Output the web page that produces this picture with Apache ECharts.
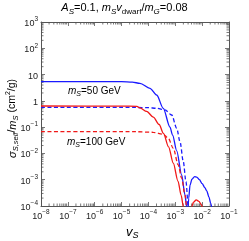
<!DOCTYPE html>
<html><head><meta charset="utf-8">
<script src="https://cdn.jsdelivr.net/npm/echarts@6/dist/echarts.min.js"></script>
<style>html,body{margin:0;padding:0;background:#fff}#c{width:249px;height:241px}</style>
</head><body><div id="c"></div>
<script>
// x: v_S, y: sigma/m (cm^2/g)
const blueSolid = [[1e-8,5.37],[1e-5,5.35],[2.51e-5,5.13],[4.85e-5,4.66],[1.14e-4,3.01],[2.03e-4,1.67],[3.57e-4,0.521],[6.34e-4,0.1],[7.94e-4,0.05],[1.13e-3,0.0126],[1.73e-3,1.51e-3],[2.30e-3,2.63e-4],[2.65e-3,9.3e-5],[2.75e-3,2.5e-5]];
const blueBump = [[2.95e-3,5e-5],[3.16e-3,2.0e-4],[3.55e-3,6.3e-4],[4.17e-3,1.05e-3],[5.25e-3,1.32e-3],[6.31e-3,1.26e-3],[7.94e-3,1.0e-3],[1e-2,7.1e-4],[1.26e-2,5.0e-4],[1.48e-2,3.8e-4],[1.78e-2,2.24e-4],[2.09e-2,1.26e-4],[2.40e-2,6.3e-5]];
const blueDashed = [[1e-8,0.562],[3.16e-5,0.562],[1e-4,0.55],[2.03e-4,0.521],[4.13e-4,0.450],[7.35e-4,0.290],[1.13e-3,0.0906],[1.50e-3,0.028],[1.99e-3,4.85e-3],[2.50e-3,8.4e-4],[3.05e-3,9.3e-5],[3.16e-3,3.2e-5]];
const redSolid = [[1e-8,0.638],[1e-5,0.634],[3.72e-5,0.617],[4.85e-5,0.537],[8.61e-5,0.398],[1.52e-4,0.24],[2.51e-4,0.126],[3.63e-4,0.0575],[5.62e-4,0.0178],[8.41e-4,4.27e-3],[1.26e-3,8.9e-4],[1.66e-3,2.51e-4],[1.99e-3,9.3e-5],[2.04e-3,3.2e-5]];
const redBump = [[3.8e-3,3.2e-5],[4.17e-3,1.0e-4],[4.79e-3,1.41e-4],[6.03e-3,1.70e-4],[7.59e-3,1.51e-4],[9.33e-3,1.12e-4],[1.07e-2,7.9e-5],[1.17e-2,3.2e-5]];
const redDashed = [[1e-8,0.0671],[3.16e-5,0.0671],[1.52e-4,0.0637],[3.57e-4,0.0535],[5.48e-4,0.0377],[8.41e-4,0.0157],[1.29e-3,3.64e-3],[1.73e-3,1.14e-3],[2.30e-3,2.63e-4],[2.65e-3,9.3e-5],[2.75e-3,3.2e-5]];
const xRange = [1e-8, 1e-1];
const yRange = [1e-4, 1e3];
const xMinorExps = [-8,-7,-6,-5,-4,-3,-2];
const yMinorExps = [-4,-3,-2,-1,0,1,2];
const minorMult = [2,3,4,5,6,7,8,9];

const BLUE = '#1a1aff', RED = '#f01818', AX = '#555', FONT = 'Liberation Sans';
const supRich = {
  b: {fontSize: 9, fontFamily: FONT, color: '#222', verticalAlign: 'bottom', lineHeight: 12},
  s: {fontSize: 6.5, fontFamily: FONT, color: '#222', verticalAlign: 'top', lineHeight: 12}
};
function fmtX(v){ const e = Math.round(Math.log10(v)); return '{b|10}{s|' + (e<0?'\u2212'+(-e):e) + '}'; }
function fmtY(v){ const e = Math.round(Math.log10(v));
  if (e === 0) return '{b|1}'; if (e === 1) return '{b|10}';
  return '{b|10}{s|' + (e<0?'\u2212'+(-e):e) + '}'; }

const xMinor = [], yMinor = [];
xMinorExps.forEach(e => minorMult.forEach(k => xMinor.push([k*Math.pow(10,e), 1])));
yMinorExps.forEach(e => minorMult.forEach(k => yMinor.push([1e-6, k*Math.pow(10,e)])));

function minorRender(axis){
  return function(params, api){
    const cs = params.coordSys;
    const p = api.coord([api.value(0), api.value(1)]);
    const st = {stroke: AX, lineWidth: 0.8};
    const L = 2.5;
    if (axis === 'x') {
      return {type:'group', children:[
        {type:'line', shape:{x1:p[0],y1:cs.y+cs.height,x2:p[0],y2:cs.y+cs.height-L}, style:st},
        {type:'line', shape:{x1:p[0],y1:cs.y,x2:p[0],y2:cs.y+L}, style:st}]};
    }
    return {type:'group', children:[
      {type:'line', shape:{x1:cs.x,y1:p[1],x2:cs.x+L,y2:p[1]}, style:st},
      {type:'line', shape:{x1:cs.x+cs.width,y1:p[1],x2:cs.x+cs.width-L,y2:p[1]}, style:st}]};
  };
}

const chart = echarts.init(document.getElementById('c'), null, {renderer:'canvas'});
function axisCommon(){ return {type:'log', logBase:10, splitNumber:7,
  axisLine:{show:true, lineStyle:{color:AX, width:1}}, axisTick:{show:true, inside:true, length:4, lineStyle:{color:AX, width:0.8}},
  splitLine:{show:false}, minorTick:{show:false}}; }
const line = (data, color, dashed) => ({type:'line', data, showSymbol:false, symbol:'none', smooth:0.3, smoothMonotone:'x', clip:true,
  lineStyle:{color, width:1.3, type: dashed ? [4,2.5] : 'solid'}, animation:false, z:3});

chart.setOption({
  animation:false,
  grid:{left:41, right:20, top:22, bottom:35},
  xAxis:[
    Object.assign(axisCommon(), {min:xRange[0], max:xRange[1], position:'bottom',
      axisLabel:{formatter:fmtX, rich:supRich, margin:3, showMinLabel:true, showMaxLabel:true}}),
    Object.assign(axisCommon(), {min:xRange[0], max:xRange[1], position:'top', axisLabel:{show:false}})
  ],
  yAxis:[
    Object.assign(axisCommon(), {min:yRange[0], max:yRange[1], position:'left',
      axisLabel:{formatter:fmtY, rich:supRich, margin:3, showMinLabel:true, showMaxLabel:true}}),
    Object.assign(axisCommon(), {min:yRange[0], max:yRange[1], position:'right', axisLabel:{show:false}})
  ],
  series:[
    line(blueSolid, BLUE, false), line(blueBump, BLUE, false), line(blueDashed, BLUE, true),
    line(redSolid, RED, false), line(redBump, RED, false), line(redDashed, RED, true),
    {type:'custom', data:xMinor, renderItem:minorRender('x'), clip:false, silent:true, z:2},
    {type:'custom', data:yMinor, renderItem:minorRender('y'), clip:false, silent:true, z:2}
  ],
  graphic:[
    {type:'text', left:'center', top:2, style:{x:0, text:'{i|A}{si|S}{r|=0.1, }{i|m}{si|S}{i|v}{sr|dwarf}{r|/}{i|m}{si|G}{r|=0.08}',
      rich:{i:{fontSize:11, fontStyle:'italic', fontFamily:FONT, color:'#222', verticalAlign:'top', lineHeight:14},
            r:{fontSize:11, fontFamily:FONT, color:'#222', verticalAlign:'top', lineHeight:14},
            si:{fontSize:8, fontStyle:'italic', fontFamily:FONT, color:'#222', verticalAlign:'bottom', lineHeight:14},
            sr:{fontSize:8, fontFamily:FONT, color:'#222', verticalAlign:'bottom', lineHeight:14}}}},
    {type:'text', x:5, y:158, rotation:Math.PI/2, style:{text:'{g|\u03c3}{si|S,self}{r|/}{i|m}{si|S}{r| (cm}{sup|2}{r|/g)}',
      rich:{g:{fontSize:11, fontStyle:'italic', fontFamily:FONT, color:'#222', verticalAlign:'middle', lineHeight:15},
            i:{fontSize:11, fontStyle:'italic', fontFamily:FONT, color:'#222', verticalAlign:'middle', lineHeight:15},
            r:{fontSize:10.5, fontFamily:FONT, color:'#222', verticalAlign:'middle', lineHeight:15},
            si:{fontSize:7.5, fontStyle:'italic', fontFamily:FONT, color:'#222', verticalAlign:'bottom', lineHeight:15},
            sup:{fontSize:7, fontFamily:FONT, color:'#222', verticalAlign:'top', lineHeight:15}}}},
    {type:'text', x:126, y:224, style:{text:'{i|v}{si|S}',
      rich:{i:{fontSize:13, fontStyle:'italic', fontFamily:FONT, color:'#222', verticalAlign:'middle', lineHeight:16},
            si:{fontSize:9, fontStyle:'italic', fontFamily:FONT, color:'#222', verticalAlign:'bottom', lineHeight:16}}}},
    {type:'text', x:68, y:85, style:{text:'{i|m}{si|S}{r|=50 GeV}',
      rich:{i:{fontSize:10, fontStyle:'italic', fontFamily:FONT, color:BLUE, verticalAlign:'middle', lineHeight:13},
            r:{fontSize:10, fontFamily:FONT, color:BLUE, verticalAlign:'middle', lineHeight:13},
            si:{fontSize:7, fontStyle:'italic', fontFamily:FONT, color:BLUE, verticalAlign:'bottom', lineHeight:13}}}},
    {type:'text', x:67, y:136, style:{text:'{i|m}{si|S}{r|=100 GeV}',
      rich:{i:{fontSize:10, fontStyle:'italic', fontFamily:FONT, color:RED, verticalAlign:'middle', lineHeight:13},
            r:{fontSize:10, fontFamily:FONT, color:RED, verticalAlign:'middle', lineHeight:13},
            si:{fontSize:7, fontStyle:'italic', fontFamily:FONT, color:RED, verticalAlign:'bottom', lineHeight:13}}}}
  ]
});
</script></body></html>
